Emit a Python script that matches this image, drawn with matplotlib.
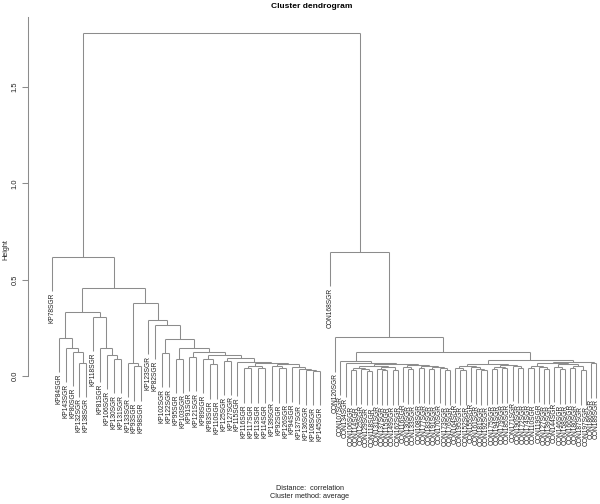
import matplotlib
matplotlib.use("Agg")
import matplotlib.pyplot as plt

plt.rcParams["font.family"] = ["Liberation Sans", "DejaVu Sans"]

LINE_COLOR = "#8c8c8c"
TEXT_COLOR = "#222222"
HANG = 0.178  # R plot.hclust hang = 0.1 * range of heights

# leaf order as plotted, left to right
KP_LEAVES = [
    "KP78SGR", "KP84SGR", "KP143SGR", "KP80SGR", "KP132SGR", "KP138SGR",
    "KP118SGR", "KP81SGR", "KP106SGR", "KP130SGR", "KP131SGR", "KP133SGR",
    "KP93SGR", "KP98SGR", "KP123SGR", "KP82SGR", "KP102SGR", "KP122SGR",
    "KP95SGR", "KP103SGR", "KP91SGR", "KP121SGR", "KP89SGR", "KP83SGR",
    "KP110SGR", "KP125SGR", "KP127SGR", "KP115SGR", "KP116SGR", "KP117SGR",
    "KP113SGR", "KP114SGR", "KP139SGR", "KP92SGR", "KP126SGR", "KP94SGR",
    "KP137SGR", "KP136SGR", "KP108SGR", "KP145SGR",
]
CON_LEAVES = [
    "CON168SGR", "CON120SGR", "CON107SGR", "CON134SGR", "CON106SGR", "CON114SGR",
    "CON125SGR", "CON129SGR", "CON118SGR", "CON131SGR", "CON137SGR", "CON115SGR",
    "CON149SGR", "CON162SGR", "CON116SGR", "CON130SGR", "CON133SGR", "CON108SGR",
    "CON177SGR", "CON183SGR", "CON191SGR", "CON170SGR", "CON173SGR", "CON176SGR",
    "CON164SGR", "CON195SGR", "CON152SGR", "CON155SGR", "CON161SGR", "CON181SGR",
    "CON192SGR", "CON175SGR", "CON194SGR", "CON179SGR", "CON185SGR", "CON171SGR",
    "CON190SGR", "CON172SGR", "CON174SGR", "CON110SGR", "CON119SGR", "CON127SGR",
    "CON139SGR", "CON144SGR", "CON146SGR", "CON158SGR", "CON166SGR", "CON180SGR",
    "CON187SGR", "CON197SGR", "CON186SGR", "CON189SGR",
]

# merges: (height, left, right); strings are leaves
KP_LOW = (0.075, "KP115SGR",
          (0.07, (0.05, (0.04, "KP116SGR", "KP117SGR"), (0.04, "KP113SGR", "KP114SGR")),
           (0.06, (0.05, "KP139SGR", (0.04, "KP92SGR", "KP126SGR")),
            (0.045, "KP94SGR", (0.035, "KP137SGR", (0.03, "KP136SGR", (0.025, "KP108SGR", "KP145SGR")))))))
KP_CHAIN = (0.19, (0.12, "KP102SGR", "KP122SGR"),
            (0.145, (0.09, "KP95SGR", "KP103SGR"),
             (0.125, (0.1, "KP91SGR", "KP121SGR"),
              (0.11, (0.09, "KP89SGR", (0.06, "KP83SGR", "KP110SGR")),
               (0.093, (0.08, "KP125SGR", "KP127SGR"), KP_LOW)))))
KP_TREE = (0.62, "KP78SGR",
           (0.457,
            (0.33,
             (0.197, "KP84SGR", (0.145, "KP143SGR", (0.125, "KP80SGR", (0.07, "KP132SGR", "KP138SGR")))),
             (0.306, "KP118SGR", (0.145, "KP81SGR", (0.11, "KP106SGR", (0.088, "KP130SGR", "KP131SGR"))))),
            (0.38,
             (0.07, "KP133SGR", (0.05, "KP93SGR", "KP98SGR")),
             (0.29, "KP123SGR", (0.265, "KP82SGR", KP_CHAIN)))))

CON_Q = (0.05, (0.04, (0.03, "CON106SGR", "CON114SGR"), (0.035, "CON125SGR", (0.025, "CON129SGR", "CON118SGR"))),
         (0.045, (0.035, "CON131SGR", (0.03, "CON137SGR", "CON115SGR")), (0.03, "CON149SGR", "CON162SGR")))
CON_R = (0.055, (0.045, "CON116SGR", (0.035, "CON130SGR", "CON133SGR")),
         (0.05, (0.04, "CON108SGR", "CON177SGR"),
          (0.045, (0.035, "CON183SGR", "CON191SGR"), (0.04, "CON170SGR", (0.03, "CON173SGR", "CON176SGR")))))
CON_A = (0.06,
         (0.05, (0.04, "CON164SGR", (0.03, "CON195SGR", "CON152SGR")),
          (0.045, "CON155SGR", (0.035, "CON161SGR", (0.03, "CON181SGR", "CON192SGR")))),
         (0.055, (0.045, (0.035, "CON175SGR", "CON194SGR"), (0.04, "CON179SGR", "CON185SGR")),
          (0.05, "CON171SGR", (0.04, "CON190SGR", "CON172SGR"))))
CON_C = (0.07,
         (0.05, (0.04, "CON174SGR", "CON110SGR"), (0.045, "CON119SGR", (0.035, "CON127SGR", "CON139SGR"))),
         (0.06, (0.045, "CON144SGR", (0.035, "CON146SGR", "CON158SGR")),
          (0.05, (0.04, "CON166SGR", "CON180SGR"), (0.03, "CON187SGR", "CON197SGR"))))
CON_TREE = (0.645, "CON168SGR",
            (0.2, "CON120SGR",
             (0.125,
              (0.08, "CON107SGR", (0.07, "CON134SGR", (0.06, CON_Q, CON_R))),
              (0.083, CON_A, (0.075, CON_C, (0.065, "CON186SGR", "CON189SGR"))))))
ROOT_HEIGHT = 1.78

Y_TICKS = [0.0, 0.5, 1.0, 1.5]

# leaf positions: the two groups are packed with different spacing in the reference
KP_STEP = 1.0
CON_STEP = 0.76
GROUP_GAP = 1.46
pos = {}
for i, name in enumerate(KP_LEAVES):
    pos[name] = i * KP_STEP
con_start = (len(KP_LEAVES) - 1) * KP_STEP + GROUP_GAP
for i, name in enumerate(CON_LEAVES):
    pos[name] = con_start + i * CON_STEP

fig = plt.figure(figsize=(6.0, 5.04), dpi=100)
# axes spans pixel x 28..600, y 17..376 (height 0)
ax = fig.add_axes([28 / 600, (504 - 376) / 504, 572 / 600, 359 / 504])
px_per_unit = 6.87
x0 = -(52 - 28) / px_per_unit
ax.set_xlim(x0, x0 + 572 / px_per_unit)
ax.set_ylim(0, 359 / 192.7)


def draw(node, ax):
    """Draw a subtree, return (x, top height) of its stem."""
    if isinstance(node, str):
        return pos[node], None
    h, left, right = node
    xs = []
    for child in (left, right):
        x, ch = draw(child, ax)
        bottom = ch if ch is not None else h - HANG
        ax.plot([x, x], [bottom, h], color=LINE_COLOR, lw=0.75, clip_on=False,
                solid_capstyle="butt")
        if ch is None:
            ax.text(x, h - HANG - 0.008, child, rotation=90, ha="center", va="top",
                    fontsize=4.8, color=TEXT_COLOR)
        xs.append(x)
    ax.plot(xs, [h, h], color=LINE_COLOR, lw=0.75, clip_on=False, solid_capstyle="butt")
    return (xs[0] + xs[1]) / 2, h


draw((ROOT_HEIGHT, KP_TREE, CON_TREE), ax)

for side in ("top", "right", "bottom"):
    ax.spines[side].set_visible(False)
ax.spines["left"].set_color(LINE_COLOR)
ax.spines["left"].set_linewidth(0.75)
ax.set_xticks([])
ax.set_yticks(Y_TICKS)
ax.set_yticklabels(["%.1f" % t for t in Y_TICKS], rotation=90, va="center", fontsize=5.4)
ax.tick_params(axis="y", length=4, width=0.75, color=LINE_COLOR, pad=3, labelcolor=TEXT_COLOR)

fig.text(6 / 600, 1 - 250 / 504, "Height", rotation=90, ha="center", va="center",
         fontsize=5.2, color=TEXT_COLOR)
fig.text(312 / 600, 1 - 6 / 504, "Cluster dendrogram", ha="center", va="center",
         fontsize=6, fontweight="bold")
fig.text(310 / 600, 1 - 489 / 504, "Distance:  correlation", ha="center", va="center",
         fontsize=5.2, color=TEXT_COLOR)
fig.text(310 / 600, 1 - 496.5 / 504, "Cluster method: average", ha="center", va="center",
         fontsize=5.2, color=TEXT_COLOR)

fig.savefig("out.png", dpi=100)
